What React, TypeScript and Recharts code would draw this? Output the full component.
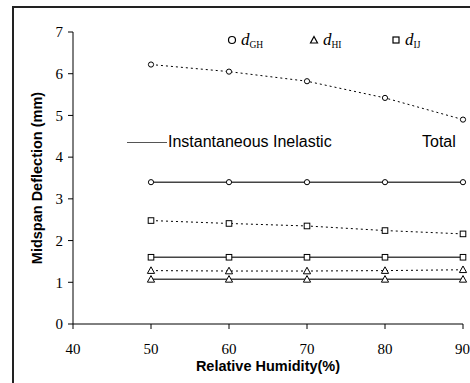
import React from 'react';
import { LineChart, Line, XAxis, YAxis, Label } from 'recharts';

// Relative humidity (%) at each test point
const humidity = [50, 60, 70, 80, 90];

// Total midspan deflection (mm)
const totalGH = [6.22, 6.05, 5.82, 5.42, 4.9];
const totalIJ = [2.48, 2.41, 2.35, 2.24, 2.16];
const totalHI = [1.28, 1.27, 1.27, 1.28, 1.3];

// Instantaneous inelastic deflection (mm)
const instGH = [3.4, 3.4, 3.4, 3.4, 3.4];
const instIJ = [1.6, 1.6, 1.6, 1.6, 1.6];
const instHI = [1.07, 1.07, 1.07, 1.07, 1.07];

const xTicks = [40, 50, 60, 70, 80, 90];
const yTicks = [0, 1, 2, 3, 4, 5, 6, 7];

const chartData = humidity.map((h, i) => ({
  rh: h,
  totalGH: totalGH[i],
  totalIJ: totalIJ[i],
  totalHI: totalHI[i],
  instGH: instGH[i],
  instIJ: instIJ[i],
  instHI: instHI[i],
}));

const serif = '"Liberation Serif", "Times New Roman", serif';
const sans = '"Liberation Sans", Arial, sans-serif';

const CircleDot = (props: any) => {
  const { cx, cy } = props;
  if (cx == null || cy == null) return null;
  return <circle cx={cx} cy={cy} r={2.6} fill="#fff" stroke="#000" strokeWidth={1} />;
};

const SquareDot = (props: any) => {
  const { cx, cy } = props;
  if (cx == null || cy == null) return null;
  return <rect x={cx - 2.8} y={cy - 2.8} width={5.6} height={5.6} fill="#fff" stroke="#000" strokeWidth={1} />;
};

const TriangleDot = (props: any) => {
  const { cx, cy } = props;
  if (cx == null || cy == null) return null;
  return (
    <path
      d={`M${cx},${cy - 3.8} L${cx + 3.6},${cy + 2.8} L${cx - 3.6},${cy + 2.8} Z`}
      fill="#fff"
      stroke="#000"
      strokeWidth={1}
    />
  );
};

const legendMark = (kind: string) => {
  if (kind === 'circle')
    return <svg width={10} height={10}><circle cx={5} cy={5} r={3.5} fill="#fff" stroke="#000" strokeWidth={1.2} /></svg>;
  if (kind === 'triangle')
    return <svg width={10} height={10}><path d="M5,1.5 L8.5,8 L1.5,8 Z" fill="#fff" stroke="#000" strokeWidth={1.2} /></svg>;
  return <svg width={10} height={10}><rect x={2} y={2} width={6} height={6} fill="#fff" stroke="#000" strokeWidth={1.2} /></svg>;
};

const symbolLegend = [
  { kind: 'circle', sub: 'GH', left: 227 },
  { kind: 'triangle', sub: 'HI', left: 309 },
  { kind: 'square', sub: 'IJ', left: 391 },
];

const tickStyle = { fontFamily: serif, fontSize: 15, fill: '#000' };

export default function App() {
  return (
    <div style={{ position: 'absolute', left: 0, top: 0, width: 470, height: 383, background: '#fff', overflow: 'hidden' }}>
      <div
        style={{
          position: 'absolute',
          left: 12,
          top: 6,
          width: 500,
          height: 420,
          borderLeft: '2px solid #222',
          borderTop: '2px solid #222',
        }}
      />
      <LineChart width={470} height={383} data={chartData} margin={{ top: 32, right: 7, bottom: 29, left: 0 }}>
        <XAxis
          dataKey="rh"
          type="number"
          domain={[40, 90]}
          ticks={xTicks}
          tickSize={5}
          tickMargin={14}
          height={30}
          stroke="#000"
          tick={tickStyle}
          tickLine={{ stroke: '#000' }}
        >
          <Label
            value="Relative Humidity(%)"
            position="bottom"
            offset={7}
            style={{ fontFamily: sans, fontSize: 14.5, fontWeight: 'bold', fill: '#000' }}
          />
        </XAxis>
        <YAxis
          type="number"
          domain={[0, 7]}
          ticks={yTicks}
          width={73}
          tickSize={5}
          tickMargin={5}
          stroke="#000"
          tick={tickStyle}
          tickLine={{ stroke: '#000' }}
        >
          <Label
            value="Midspan Deflection (mm)"
            angle={-90}
            position="center"
            style={{ fontFamily: sans, fontSize: 14.5, fontWeight: 'bold', fill: '#000', textAnchor: 'middle' }}
          />
        </YAxis>
        <Line dataKey="instGH" stroke="#444" strokeWidth={1.5} dot={<CircleDot />} isAnimationActive={false} />
        <Line dataKey="instIJ" stroke="#444" strokeWidth={1.5} dot={<SquareDot />} isAnimationActive={false} />
        <Line dataKey="instHI" stroke="#444" strokeWidth={1.5} dot={<TriangleDot />} isAnimationActive={false} />
        <Line dataKey="totalGH" stroke="#000" strokeWidth={1} strokeDasharray="2 3" dot={<CircleDot />} isAnimationActive={false} />
        <Line dataKey="totalIJ" stroke="#000" strokeWidth={1} strokeDasharray="2 3" dot={<SquareDot />} isAnimationActive={false} />
        <Line dataKey="totalHI" stroke="#000" strokeWidth={1} strokeDasharray="2 3" dot={<TriangleDot />} isAnimationActive={false} />
      </LineChart>

      {symbolLegend.map((s) => (
        <div key={s.sub} style={{ position: 'absolute', left: s.left, top: 30, display: 'flex', alignItems: 'center', whiteSpace: 'nowrap' }}>
          {legendMark(s.kind)}
          <span style={{ marginLeft: 4, fontFamily: serif, fontStyle: 'italic', fontSize: 17, color: '#000' }}>d</span>
          <span style={{ fontFamily: serif, fontSize: 9.5, color: '#000', position: 'relative', top: 5 }}>{s.sub}</span>
        </div>
      ))}

      <div style={{ position: 'absolute', left: 127, top: 133, display: 'flex', alignItems: 'center', whiteSpace: 'nowrap' }}>
        <div style={{ width: 40, height: 0, borderTop: '1.5px solid #555' }} />
        <span style={{ marginLeft: 1, fontFamily: sans, fontSize: 16, color: '#000' }}>Instantaneous Inelastic</span>
      </div>
      <div style={{ position: 'absolute', left: 422, top: 133, whiteSpace: 'nowrap', fontFamily: sans, fontSize: 16, color: '#000' }}>
        Total
      </div>
    </div>
  );
}
